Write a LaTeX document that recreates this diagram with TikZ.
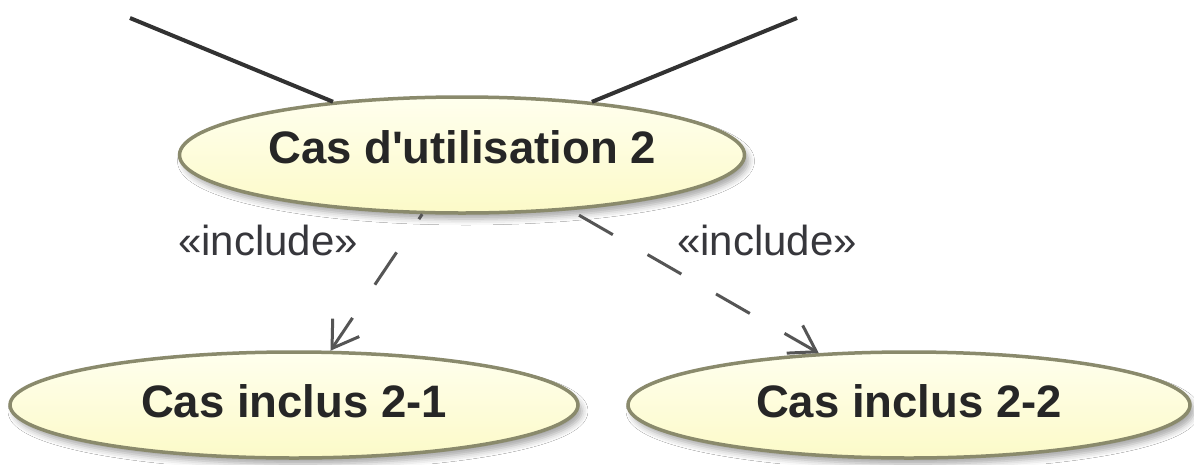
\documentclass[tikz,border=0pt]{standalone}
\usepackage{fontspec}
\setmainfont{Liberation Sans}[Ligatures=TeXOff]
\usetikzlibrary{shapes.geometric,arrows.meta,shadows.blur}

\definecolor{ucborder}{RGB}{138,138,108}
\definecolor{uctop}{RGB}{255,255,238}
\definecolor{ucbottom}{RGB}{252,250,200}
\definecolor{uctext}{RGB}{38,38,38}
\definecolor{assoc}{RGB}{50,50,50}
\definecolor{dep}{RGB}{85,85,85}
\definecolor{stereo}{RGB}{55,55,60}

\tikzset{
  usecase/.style={ellipse, draw=ucborder, line width=3.5pt,
    top color=uctop, bottom color=ucbottom, inner sep=0pt,
    text=uctext, font=\fontsize{45.5}{50}\selectfont\bfseries,
    blur shadow={shadow xshift=4pt, shadow yshift=-6pt,
      shadow blur radius=6pt, shadow opacity=35}},
  association/.style={draw=assoc, line width=4pt},
  includedep/.style={draw=dep, line width=3pt,
    -{Straight Barb[length=25pt, width=32pt, line width=3pt]}},
  stereotype/.style={text=stereo, font=\fontsize{42}{46}\selectfont}
}

\begin{document}
\begin{tikzpicture}[x=1pt, y=-1pt]
  \useasboundingbox (0,0) rectangle (1194,464);
  \fill[white] (0,0) rectangle (1194,464);

  % actor associations entering from above
  \coordinate (actL) at (130,18);
  \coordinate (actR) at (797,18);

  % use cases (text depth lifts the label a little above the centre)
  \node[usecase, minimum width=565pt, minimum height=116pt, text depth=16pt] (uc)
    at (462,155) {Cas d'utilisation 2};
  \node[usecase, minimum width=568pt, minimum height=106pt, text depth=8pt] (inc1)
    at (294,405) {Cas inclus 2-1};
  \node[usecase, minimum width=562pt, minimum height=106pt, text depth=8pt] (inc2)
    at (909,405) {Cas inclus 2-2};

  \draw[association] (actL) -- (uc);
  \draw[association] (actR) -- (uc);

  % include dependencies
  \draw[includedep, dash pattern=on 39pt off 40pt, dash phase=33pt]
    (uc) -- (inc1);
  \draw[includedep, dash pattern=on 39pt off 40pt, dash phase=69pt]
    (uc.333) -- (inc2);

  \node[stereotype] (lab1) at (268,240) {«include»};
  \node[stereotype] (lab2) at (767,240) {«include»};
\end{tikzpicture}
\end{document}
